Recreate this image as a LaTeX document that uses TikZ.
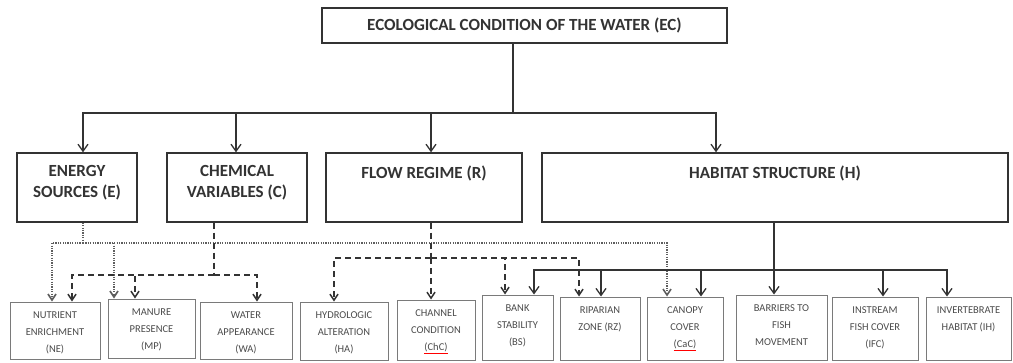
\documentclass[tikz,border=0pt]{standalone}
\usepackage{fontspec}
\setmainfont{Carlito}
\usetikzlibrary{arrows.meta}

\definecolor{boxline}{HTML}{333333}
\definecolor{leafline}{HTML}{7A7A7A}
\definecolor{leaftext}{HTML}{4A4A4A}
\definecolor{dotgrey}{HTML}{5E5E5E}

\newcommand{\spellmark}[1]{{\color{red}\underline{\textcolor{leaftext}{#1}}}}

\tikzset{
  titlebox/.style={draw=boxline, line width=1.4pt, text=boxline, font=\fontsize{17}{21}\selectfont\bfseries},
  headbox/.style={draw=boxline, line width=1.4pt, minimum height=69pt},
  headtext/.style={anchor=north, yshift=-10pt, align=center, text=boxline, font=\fontsize{17}{21}\selectfont\bfseries},
  leafbox/.style={draw=leafline, line width=1pt},
  leaftext/.style={anchor=north, yshift=-6.3pt, align=center, text=leaftext, font=\fontsize{10.5}{17}\selectfont},
  tree/.style={draw=boxline, line width=1.3pt, -{Straight Barb[length=7pt,width=10pt]}},
  treeline/.style={draw=boxline, line width=1.3pt},
  dashlink/.style={draw=boxline, line width=1.5pt, dash pattern=on 6pt off 4pt},
  dasharr/.style={dashlink, -{Straight Barb[length=6pt,width=8pt]}},
  dotlink/.style={draw=dotgrey, line width=1.6pt, dash pattern=on 1.2pt off 1.2pt},
  dotarr/.style={dotlink, -{Straight Barb[length=6pt,width=8pt]}}
}

\begin{document}
\begin{tikzpicture}[x=1pt, y=-1pt]
\useasboundingbox (0,0) rectangle (1013,362);

% top level
\node[titlebox, minimum width=405pt, minimum height=35pt] (ec) at (524.5,25.5) {ECOLOGICAL CONDITION OF THE WATER (EC)};

% second level
\node[headbox, minimum width=120pt] (es) at (77,187.5) {};
\node[headtext] (es-t) at (es.north) {ENERGY\\SOURCES (E)};
\node[headbox, minimum width=140pt] (cv) at (237,187.5) {};
\node[headtext] (cv-t) at (cv.north) {CHEMICAL\\VARIABLES (C)};
\node[headbox, minimum width=196pt] (fr) at (424,187.5) {};
\node[headtext] (fr-t) at (fr.north) {FLOW REGIME (R)};
\node[headbox, minimum width=466pt] (hs) at (775,187.5) {};
\node[headtext] (hs-t) at (hs.north) {HABITAT STRUCTURE (H)};

% indicators
\node[leafbox, minimum width=90pt, minimum height=57pt] (ne) at (55,330.5) {};
\node[leaftext] (ne-t) at (ne.north) {NUTRIENT\\ENRICHMENT\\(NE)};
\node[leafbox, minimum width=87pt, minimum height=59pt] (mp) at (151.5,328.5) {};
\node[leaftext] (mp-t) at (mp.north) {MANURE\\PRESENCE\\(MP)};
\node[leafbox, minimum width=92pt, minimum height=57pt] (wa) at (246,330.5) {};
\node[leaftext] (wa-t) at (wa.north) {WATER\\APPEARANCE\\(WA)};
\node[leafbox, minimum width=88pt, minimum height=58pt] (ha) at (344,331) {};
\node[leaftext] (ha-t) at (ha.north) {HYDROLOGIC\\ALTERATION\\(HA)};
\node[leafbox, minimum width=78pt, minimum height=60pt] (chc) at (436,330) {};
\node[leaftext] (chc-t) at (chc.north) {CHANNEL\\CONDITION\\\spellmark{(ChC)}};
\node[leafbox, minimum width=71pt, minimum height=65pt] (bs) at (517.5,327.5) {};
\node[leaftext] (bs-t) at (bs.north) {BANK\\STABILITY\\(BS)};
\node[leafbox, minimum width=80pt, minimum height=63pt] (rz) at (600,328.5) {};
\node[leaftext] (rz-t) at (rz.north) {RIPARIAN\\ZONE (RZ)};
\node[leafbox, minimum width=76pt, minimum height=63pt] (cac) at (685,328.5) {};
\node[leaftext] (cac-t) at (cac.north) {CANOPY\\COVER\\\spellmark{(CaC)}};
\node[leafbox, minimum width=91pt, minimum height=65pt] (bf) at (781.5,327.5) {};
\node[leaftext] (bf-t) at (bf.north) {BARRIERS TO\\FISH\\MOVEMENT};
\node[leafbox, minimum width=86pt, minimum height=63pt] (ifc) at (875,328.5) {};
\node[leaftext] (ifc-t) at (ifc.north) {INSTREAM\\FISH COVER\\(IFC)};
\node[leafbox, minimum width=85pt, minimum height=63pt] (ih) at (968.5,328.5) {};
\node[leaftext] (ih-t) at (ih.north) {INVERTEBRATE\\HABITAT (IH)};

% top branches
\coordinate (bus) at (513,113);
\draw[treeline] ([xshift=-11.5pt]ec.south) -- (bus);
\draw[tree] (bus) -| ([xshift=6pt]es.north);
\draw[tree] (bus) -| ([xshift=-1pt]cv.north);
\draw[tree] (bus) -| ([xshift=7pt]fr.north);
\draw[tree] (bus) -| ([xshift=-59pt]hs.north);

% energy sources (dotted)
\coordinate (ebus) at (83,243);
\draw[dotlink] ([xshift=6pt]es.south) -- (ebus);
\draw[dotarr] (ebus) -| ([xshift=-3pt]ne.north);
\draw[dotarr] (ebus) -| ([xshift=-37.5pt]mp.north);
\draw[dotarr] (ebus) -| ([xshift=-18pt]cac.north);

% chemical variables (dashed)
\coordinate (cbus) at (214,275);
\draw[dashlink] ([xshift=-23pt]cv.south) -- (cbus);
\draw[dasharr] (cbus) -| ([xshift=17pt]ne.north);
\draw[dasharr] (cbus) -| ([xshift=-16.5pt]mp.north);
\draw[dasharr] (cbus) -| ([xshift=11pt]wa.north);

% flow regime (dashed)
\coordinate (rbus) at (431,258);
\draw[dashlink] ([xshift=7pt]fr.south) -- (rbus);
\draw[dasharr] (rbus) -| ([xshift=-10pt]ha.north);
\draw[dasharr] (rbus) -- ([xshift=-5pt]chc.north);
\draw[dasharr] (rbus) -| ([xshift=-12.5pt]bs.north);
\draw[dasharr] (rbus) -| ([xshift=-21pt]rz.north);

% habitat structure (solid)
\coordinate (hbus) at (774,270);
\draw[treeline] ([xshift=-1pt]hs.south) -- (hbus);
\draw[tree] (hbus) -| ([xshift=16.5pt]bs.north);
\draw[tree] (hbus) -| ([xshift=1pt]rz.north);
\draw[tree] (hbus) -| ([xshift=16pt]cac.north);
\draw[tree] (hbus) -- ([xshift=-7.5pt]bf.north);
\draw[tree] (hbus) -| ([xshift=8pt]ifc.north);
\draw[tree] (hbus) -| ([xshift=-21.5pt]ih.north);
\end{tikzpicture}
\end{document}
